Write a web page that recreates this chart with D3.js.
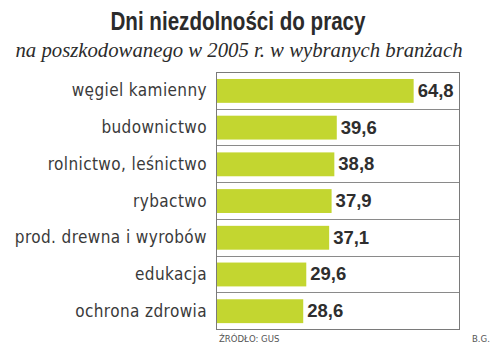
<!DOCTYPE html>
<html><head><meta charset="utf-8">
<script src="https://cdn.jsdelivr.net/npm/d3@7"></script>
<style>body{margin:0;background:#fff}svg{display:block}</style>
</head><body>
<script>
const categories = ["węgiel kamienny","budownictwo","rolnictwo, leśnictwo","rybactwo","prod. drewna i wyrobów","edukacja","ochrona zdrowia"];
const values = [64.8,39.6,38.8,37.9,37.1,29.6,28.6];
const valueLabels = ["64,8","39,6","38,8","37,9","37,1","29,6","28,6"];
const title = "Dni niezdolności do pracy";
const subtitle = "na poszkodowanego w 2005 r. w wybranych branżach";
const source = "ŹRÓDŁO: GUS";
const author = "B.G.";

const W = 499, H = 355;
const svg = d3.select("body").append("svg").attr("width", W).attr("height", H);
svg.append("rect").attr("width", W).attr("height", H).attr("fill", "#fff");

const pL = 216, pR = 460, pT = 72, pB = 329;
const x = d3.scaleLinear().domain([0, 80]).range([pL, pR]);
const y = d3.scaleBand().domain(categories).range([pT, pB]);
const bw = y.bandwidth();

svg.append("text").attr("x", 238).attr("y", 30).attr("text-anchor", "middle")
  .attr("font-family", "Liberation Sans Narrow, Arial Narrow, sans-serif").attr("font-weight", "bold")
  .attr("font-size", 25).attr("fill", "#2b2b2b").attr("textLength", 255).attr("lengthAdjust", "spacingAndGlyphs").text(title);
svg.append("text").attr("x", 239).attr("y", 57).attr("text-anchor", "middle")
  .attr("font-family", "Liberation Serif, serif").attr("font-style", "italic")
  .attr("font-size", 20).attr("fill", "#2b2b2b").attr("textLength", 447).attr("lengthAdjust", "spacingAndGlyphs").text(subtitle);

// row separators
svg.append("g").selectAll("line").data(categories.slice(1)).join("line")
  .attr("x1", pL).attr("x2", pR).attr("y1", d => Math.round(y(d)) + 0.5).attr("y2", d => Math.round(y(d)) + 0.5)
  .attr("stroke", "#8a8a8a").attr("stroke-width", 1);
svg.append("rect").attr("x", pL + 0.5).attr("y", pT + 0.5).attr("width", pR - pL - 1).attr("height", pB - pT)
  .attr("fill", "none").attr("stroke", "#7a7a7a").attr("stroke-width", 1);

svg.append("g").selectAll("rect").data(values).join("rect")
  .attr("x", x(0) + 1).attr("y", (d, i) => y(categories[i]) + bw * 0.19)
  .attr("width", d => x(d) - x(0) - 1).attr("height", bw * 0.65).attr("fill", "#c3d630");

svg.append("g").selectAll("text").data(valueLabels).join("text")
  .attr("x", (d, i) => x(values[i]) + 4).attr("y", (d, i) => y(categories[i]) + bw / 2 + 6.5)
  .attr("font-family", "Liberation Sans, Arial, sans-serif").attr("font-weight", "bold")
  .attr("font-size", 18.5).attr("fill", "#2e2e2e").text(d => d);

svg.append("g").selectAll("text").data(categories).join("text")
  .attr("x", 207).attr("y", d => y(d) + bw / 2 + 6).attr("text-anchor", "end")
  .attr("font-family", "DejaVu Sans Condensed, DejaVu Sans, sans-serif")
  .attr("font-size", 17).attr("letter-spacing", 0.4).attr("fill", "#3a3a3a").text(d => d);

svg.append("text").attr("x", 219).attr("y", 342).attr("font-family", "DejaVu Sans Condensed, sans-serif")
  .attr("font-size", 9.5).attr("fill", "#555").text(source);
svg.append("text").attr("x", 472).attr("y", 342).attr("font-family", "DejaVu Sans Condensed, sans-serif")
  .attr("font-size", 9.5).attr("fill", "#555").text(author);
</script>
</body></html>
